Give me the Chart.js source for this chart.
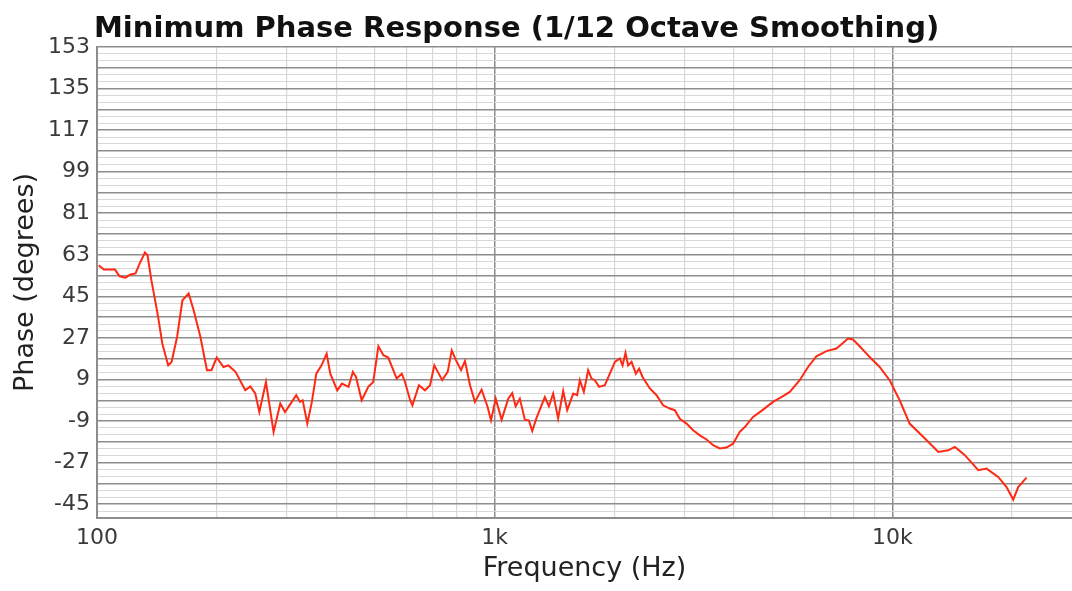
<!DOCTYPE html>
<html>
<head>
<meta charset="utf-8">
<title>Minimum Phase Response</title>
<script src="https://cdn.jsdelivr.net/npm/chart.js@4.4.1/dist/chart.umd.min.js"></script>
<style>
  html, body { margin: 0; padding: 0; background: #fff; }
  #wrap { width: 1072px; height: 591px; }
</style>
</head>
<body>
<div id="wrap"><canvas id="myChart" width="1072" height="591"></canvas></div>
<script>
'use-strict';

// frequency (Hz) and phase (degrees)
const freqs = [
  101, 104, 111, 114, 118, 121, 125, 128, 132, 134, 137, 142, 146, 151, 154, 159, 164, 170, 175, 182,
  189, 194, 200, 208, 214, 223, 236, 243, 250, 256, 266, 278, 289, 297, 309, 317, 324, 329, 338, 347,
  356, 367, 378, 386, 402, 413, 429, 440, 448, 463, 481, 495, 510, 525, 540, 567, 584, 595, 613, 621,
  645, 668, 688, 705, 738, 762, 780, 798, 823, 842, 867, 892, 927, 960, 979, 1006, 1041, 1082, 1107, 1129,
  1157, 1191, 1219, 1243, 1275, 1337, 1369, 1403, 1444, 1487, 1522, 1576, 1612, 1638, 1676, 1718, 1752, 1786, 1831, 1893,
  1948, 2006, 2064, 2097, 2133, 2166, 2209, 2265, 2308, 2354, 2456, 2553, 2652, 2757, 2838, 2921, 3037, 3155, 3280, 3410,
  3542, 3682, 3828, 3977, 4134, 4255, 4464, 4687, 5012, 5310, 5521, 5849, 6138, 6442, 6827, 7233, 7514, 7734, 7962, 8276,
  8770, 9292, 9845, 10433, 11053, 12077, 13050, 13825, 14363, 15219, 16449, 17258, 18459, 19369, 20137, 20727, 21747
];
const phase = [
  58.5, 56.6, 56.6, 53.7, 53.1, 54.4, 54.9, 59.2, 64.0, 62.8, 52, 37.5, 24.5, 15.1, 16.6, 27.4, 43.3, 46.2, 39.0, 27.4,
  13, 13, 18.5, 14.4, 15.1, 12.3, 4.3, 6, 3, -5.1, 7.9, -13.7, -1.4, -5.1, -0.7, 2.2, -0.7, 0, -10.1, -0.7,
  11.5, 15.1, 20.2, 11.5, 4.3, 7.2, 5.8, 12.3, 10.1, 0, 5.8, 7.9, 23.4, 19.5, 18.5, 9.4, 11.5, 7.9, 0, -2.2,
  6.5, 4.3, 6.5, 15.1, 8.7, 12.3, 21.6, 17.6, 13.0, 17.0, 6.5, -0.7, 4.6, -2.9, -8.7, 0.7, -8.4, 0.7, 3.1, -2.6,
  0.7, -8.4, -8.7, -13.3, -7.5, 1.4, -2.6, 2.9, -7.9, 4, -4.3, 2.9, 2.2, 8.7, 3.6, 13, 9.4, 8.7, 5.8, 6.5,
  11.5, 16.6, 18.1, 15.1, 20.5, 15.1, 16.6, 11.5, 13.7, 10.1, 5.1, 2.2, -2.2, -3.6, -4.3, -8.0, -10.1, -13.0, -15.2, -17.0,
  -19.5, -20.9, -20.5, -18.8, -13.7, -11.6, -7.2, -4.6, -0.7, 1.8, 3.6, 8.7, 14.4, 19.0, 21.3, 22.4, 24.8, 26.7, 26.3, 23.4,
  18.7, 14.4, 8.7, 0, -10.1, -16.6, -22.4, -21.7, -20.2, -23.8, -30.3, -29.6, -33.2, -37.6, -43.0, -37.6, -33.5
];

const xTicks = [100, 200, 300, 400, 500, 600, 700, 800, 900,
  1000, 2000, 3000, 4000, 5000, 6000, 7000, 8000, 9000, 10000, 20000];
const xLabels = { 100: '100', 1000: '1k', 10000: '10k' };
const yLabels = [153, 135, 117, 99, 81, 63, 45, 27, 9, -9, -27, -45];
const yMin = -51;
const yMax = 153;
const yStep = 3;

const titleText = 'Minimum Phase Response (1/12 Octave Smoothing)';
const fontFamily = '"DejaVu Sans", Verdana, sans-serif';
const majorGrid = '#8d8d8d';
const minorGrid = '#d8d8d8';

let chartCanvas = document.getElementById('myChart');

let points = [];
for (let i = 0; i < freqs.length; i++) {
  points.push({ x: freqs[i], y: phase[i] });
}

// title sits flush with the plot's left edge, not the canvas edge
const titlePlugin = {
  id: 'leftTitle',
  afterDraw(chart) {
    let ctx = chart.ctx;
    ctx.save();
    ctx.font = 'bold 29px ' + fontFamily;
    ctx.fillStyle = '#111';
    ctx.textBaseline = 'alphabetic';
    ctx.textAlign = 'left';
    ctx.fillText(titleText, chart.chartArea.left - 3, 36.5);
    ctx.restore();
  }
};

new Chart(chartCanvas, {
  type: 'line',
  data: {
    datasets: [{
      label: 'Phase',
      data: points,
      borderColor: '#ff2a14',
      borderWidth: 2,
      pointRadius: 0,
      tension: 0,
      fill: false
    }]
  },
  options: {
    responsive: false,
    animation: false,
    layout: { padding: { top: 47, right: 0, left: 0, bottom: 0 } },
    plugins: {
      legend: { display: false },
      tooltip: { enabled: false },
      title: { display: false }
    },
    scales: {
      x: {
        type: 'logarithmic',
        min: 100,
        max: 28300,
        afterBuildTicks: function(scale) {
          scale.ticks = xTicks.map(v => ({ value: v }));
        },
        afterFit: function(scale) {
          scale.height = 73;
        },
        ticks: {
          autoSkip: false,
          maxRotation: 0,
          padding: 7,
          color: '#3a3a3a',
          font: { family: fontFamily, size: 22 },
          callback: function(value) {
            return xLabels[value] || '';
          }
        },
        grid: {
          drawTicks: false,
          color: ctx => (xLabels[ctx.tick.value] ? majorGrid : minorGrid),
          lineWidth: ctx => (xLabels[ctx.tick.value] ? 1.5 : 1.2)
        },
        border: { color: majorGrid, width: 2 },
        title: {
          display: true,
          text: 'Frequency (Hz)',
          color: '#222',
          font: { family: fontFamily, size: 27 },
          padding: { top: 0, bottom: 6 }
        }
      },
      y: {
        min: yMin,
        max: yMax,
        afterBuildTicks: function(scale) {
          let ticks = [];
          for (let v = yMin; v <= yMax; v += yStep) {
            ticks.push({ value: v });
          }
          scale.ticks = ticks;
        },
        afterFit: function(scale) {
          scale.width = 97;
        },
        ticks: {
          autoSkip: false,
          padding: 7,
          color: '#3a3a3a',
          font: { family: fontFamily, size: 22 },
          callback: function(value) {
            return yLabels.includes(value) ? String(value) : '';
          }
        },
        grid: {
          drawTicks: false,
          color: ctx => (ctx.tick.value % 9 === 0 ? majorGrid : minorGrid),
          lineWidth: ctx => (ctx.tick.value % 9 === 0 ? 1.5 : 1)
        },
        border: { color: majorGrid, width: 2 },
        title: {
          display: true,
          text: 'Phase (degrees)',
          color: '#222',
          font: { family: fontFamily, size: 27 },
          padding: { top: 10, bottom: 0 }
        }
      }
    }
  },
  plugins: [titlePlugin]
});
</script>
</body>
</html>
